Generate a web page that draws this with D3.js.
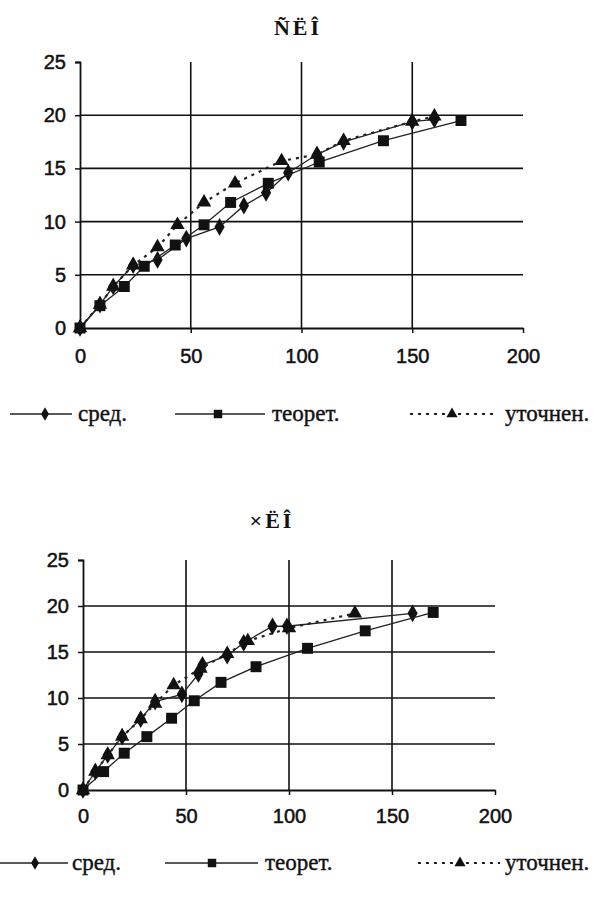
<!DOCTYPE html>
<html>
<head>
<meta charset="utf-8">
<script src="https://cdn.jsdelivr.net/npm/d3@7"></script>
<style>
  body { margin: 0; background: #fff; }
  .tick-label { font-family: "Liberation Sans", Arial, sans-serif; font-size: 20px; fill: #111; stroke: #111; stroke-width: 0.5px; }
  .legend-label { font-family: "Liberation Serif", "Times New Roman", serif; font-size: 23px; fill: #111; stroke: #111; stroke-width: 0.4px; }
  .title { font-family: "Liberation Serif", "Times New Roman", serif; font-size: 22px; font-weight: bold; fill: #111; }
</style>
</head>
<body>
<svg class="chart" width="601" height="900"></svg>
<script>
//======
// Data
//======

var xTicks = [0, 50, 100, 150, 200];
var yTicks = [0, 5, 10, 15, 20, 25];
var seriesNames = ['сред.', 'теорет.', 'уточнен.'];
var titles = ['ÑËÎ', '×ËÎ'];

// top chart [x, y]
var topSred = [[0, 0], [9, 2.2], [15, 3.9], [24, 5.9], [35, 6.4], [48, 8.4], [63, 9.5], [74, 11.5], [84, 12.7], [94, 14.6], [107, 16.3], [119, 17.5], [150, 19.4], [160, 19.6]];
var topTeor = [[0, 0], [9, 2.1], [20, 3.9], [29, 5.8], [43, 7.8], [56, 9.7], [68, 11.8], [85, 13.6], [108, 15.6], [137, 17.6], [172, 19.5]];
var topUtoch = [[0, 0], [9, 2.2], [15, 3.9], [24, 5.9], [35, 7.6], [44, 9.7], [56, 11.8], [70, 13.6], [91, 15.7], [107, 16.3], [119, 17.6], [150, 19.4], [160, 19.9]];

// bottom chart [x, y]
var botSred = [[0, 0], [6, 2], [12, 3.8], [19, 5.8], [28, 7.7], [35, 9.6], [48, 10.4], [56, 12.6], [58, 13.6], [70, 14.6], [78, 16], [92, 17.8], [99, 17.8], [160, 19.2]];
var botTeor = [[0, 0], [10, 2], [20, 4], [31, 5.8], [43, 7.8], [54, 9.7], [67, 11.7], [84, 13.4], [109, 15.4], [137, 17.3], [170, 19.3]];
var botUtoch = [[0, 0], [6, 2], [12, 3.8], [19, 5.8], [28, 7.7], [35, 9.4], [44, 11.4], [57, 13.2], [70, 14.8], [80, 16.2], [100, 17.6], [132, 19.2]];

var svg = d3.select('.chart');

var symbols = [d3.symbolDiamond, d3.symbolSquare, d3.symbolTriangle];
var symbolSizes = [90, 120, 90];
var dashes = [null, null, '3,5'];

//============
// Draw chart
//============

function drawChart(opts) {
  var x = d3.scaleLinear().domain([0, 200]).range([opts.left, opts.right]);
  var y = d3.scaleLinear().domain([0, 25]).range([opts.bottom, opts.top]);
  var g = svg.append('g');

  g.append('text')
    .attr('class', 'title')
    .attr('x', opts.titleX)
    .attr('y', opts.titleY)
    .attr('text-anchor', 'middle')
    .attr('letter-spacing', 3)
    .text(opts.title);

  // horizontal grid
  g.selectAll('.hgrid')
    .data(yTicks.filter(function(d) { return d > 0 && d < 25; }))
    .enter().append('line')
    .attr('x1', x(0)).attr('x2', x(200))
    .attr('y1', function(d) { return y(d); })
    .attr('y2', function(d) { return y(d); })
    .attr('stroke', '#111').attr('stroke-width', 1.6);

  // vertical grid
  g.selectAll('.vgrid')
    .data(xTicks.filter(function(d) { return d > 0 && d < 200; }))
    .enter().append('line')
    .attr('x1', function(d) { return x(d); })
    .attr('x2', function(d) { return x(d); })
    .attr('y1', y(0)).attr('y2', y(25))
    .attr('stroke', '#111').attr('stroke-width', 1.6);

  // Y-Axis
  var yAxis = g.append('g')
    .attr('transform', 'translate(' + x(0) + ',0)')
    .call(d3.axisLeft(y).tickValues(yTicks).tickSize(5).tickPadding(9));
  yAxis.select('.domain').attr('stroke', '#111').attr('stroke-width', 1.8);
  yAxis.selectAll('.tick line').attr('stroke', '#111').attr('stroke-width', 1.5);
  yAxis.selectAll('.tick text').attr('class', 'tick-label');

  // X-Axis
  var xAxis = g.append('g')
    .attr('transform', 'translate(0,' + y(0) + ')')
    .call(d3.axisBottom(x).tickValues(xTicks).tickSize(5).tickSizeOuter(0).tickPadding(opts.xPad));
  xAxis.select('.domain').attr('stroke', '#111').attr('stroke-width', 1.8);
  xAxis.selectAll('.tick line').attr('stroke', '#111').attr('stroke-width', 1.5);
  xAxis.selectAll('.tick text').attr('class', 'tick-label');
  g.selectAll('.domain').attr('fill', 'none');
  g.selectAll('.tick text').attr('font-family', null).attr('font-size', null);

  var line = d3.line()
    .x(function(d) { return x(d[0]); })
    .y(function(d) { return y(d[1]); });

  opts.series.forEach(function(data, i) {
    g.append('path')
      .datum(data)
      .attr('d', line)
      .attr('fill', 'none')
      .attr('stroke', '#222')
      .attr('stroke-width', i == 2 ? 2.2 : 1.3)
      .attr('stroke-dasharray', dashes[i]);

    g.selectAll('.pt' + i)
      .data(data)
      .enter()
      .append('path')
      .attr('d', d3.symbol().type(symbols[i]).size(symbolSizes[i]))
      .attr('transform', function(d) { return 'translate(' + x(d[0]) + ',' + y(d[1]) + ')'; })
      .attr('fill', '#111');
  });

  // legend
  opts.legend.forEach(function(item, i) {
    var lg = g.append('g');
    lg.append('line')
      .attr('x1', item.x1).attr('x2', item.x2)
      .attr('y1', opts.legendY - 7).attr('y2', opts.legendY - 7)
      .attr('stroke', '#222')
      .attr('stroke-width', i == 2 ? 1.8 : 1.3)
      .attr('stroke-dasharray', dashes[i]);
    lg.append('path')
      .attr('d', d3.symbol().type(symbols[i]).size(symbolSizes[i] * 0.6))
      .attr('transform', 'translate(' + item.m + ',' + (opts.legendY - 7) + ')')
      .attr('fill', '#111');
    lg.append('text')
      .attr('class', 'legend-label')
      .attr('x', item.tx)
      .attr('y', opts.legendY)
      .text(seriesNames[i]);
  });
}

drawChart({
  title: titles[0], titleX: 298, titleY: 35,
  left: 80, right: 523, top: 62, bottom: 328, xPad: 16,
  series: [topSred, topTeor, topUtoch],
  legendY: 421,
  legend: [
    { x1: 10, x2: 72, m: 45, tx: 78 },
    { x1: 175, x2: 265, m: 218, tx: 272 },
    { x1: 410, x2: 498, m: 452, tx: 505 }
  ]
});

drawChart({
  title: titles[1], titleX: 272, titleY: 528,
  left: 83, right: 495, top: 560, bottom: 790, xPad: 14,
  series: [botSred, botTeor, botUtoch],
  legendY: 870,
  legend: [
    { x1: 0, x2: 68, m: 35, tx: 72 },
    { x1: 165, x2: 258, m: 212, tx: 265 },
    { x1: 418, x2: 500, m: 460, tx: 505 }
  ]
});
</script>
</body>
</html>
